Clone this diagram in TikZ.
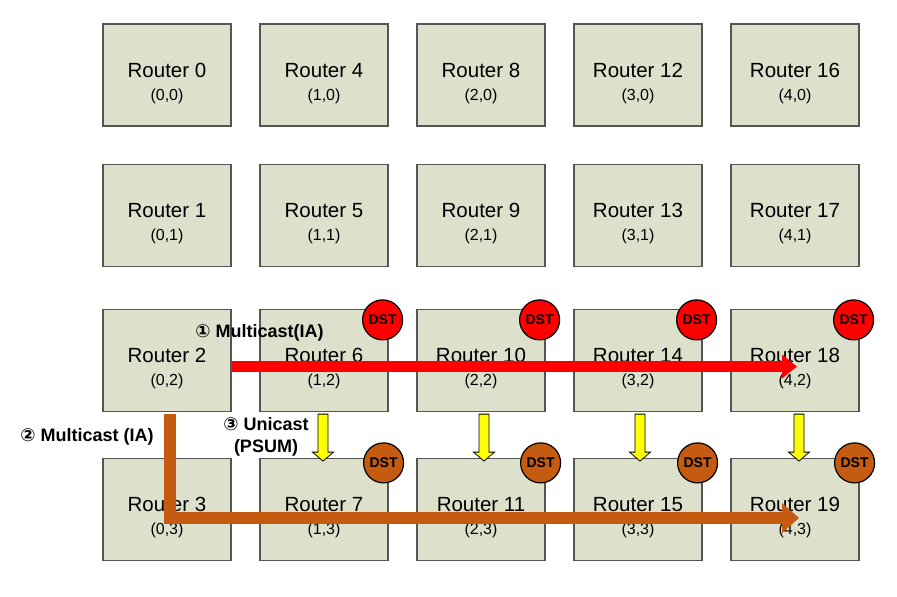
\documentclass[tikz,border=0pt]{standalone}
\usepackage{fontspec}
\setmainfont{Liberation Sans}
\newfontfamily\symfont{DejaVu Sans}
\usetikzlibrary{arrows.meta}
\definecolor{boxfill}{HTML}{DDE0CB}
\definecolor{boxline}{HTML}{555555}
\definecolor{mcred}{HTML}{FF0000}
\definecolor{mcbrown}{HTML}{C55A11}
\definecolor{ucyellow}{HTML}{FFFF00}
\tikzset{
  router/.style={draw=boxline, line width=1.2pt, fill=boxfill, minimum width=128pt, minimum height=102pt, inner sep=0pt},
  rname/.style={anchor=base, inner sep=0pt, font=\fontsize{20.5}{23}\selectfont},
  rpos/.style={anchor=base, inner sep=0pt, font=\fontsize{16}{19}\selectfont},
  dst/.style={circle, draw=black, line width=1.2pt, minimum size=40pt, inner sep=0pt, font=\fontsize{14}{16}\selectfont\bfseries},
  step label/.style={inner sep=0pt, font=\fontsize{18}{22}\selectfont\bfseries},
  pics/ucast/.style={code={
    \draw[fill=ucyellow, draw=black, line width=0.8pt] (-5,2) -- (5,2) -- (5,40) -- (10.5,40) -- (0,49) -- (-10.5,40) -- (-5,40) -- cycle;}}
}
% one router box: index, x, y, grid position
\newcommand{\Router}[4]{%
  \draw(#2,#3) node[router] (r#1) {};
  \draw([yshift=-2pt]r#1.center) node[rname] (n#1) {Router #1};
  \draw([yshift=-25pt]r#1.center) node[rpos] (p#1) {#4};
}
\begin{document}
\begin{tikzpicture}[x=1pt, y=-1pt]

    \useasboundingbox (0,0) rectangle (897,597);

    \Router{0}{167}{75}{(0,0)}
    \Router{1}{167}{215.5}{(0,1)}
    \Router{2}{167}{360.5}{(0,2)}
    \Router{3}{167}{509.5}{(0,3)}
    \Router{4}{324}{75}{(1,0)}
    \Router{5}{324}{215.5}{(1,1)}
    \Router{6}{324}{360.5}{(1,2)}
    \Router{7}{324}{509.5}{(1,3)}
    \Router{8}{481}{75}{(2,0)}
    \Router{9}{481}{215.5}{(2,1)}
    \Router{10}{481}{360.5}{(2,2)}
    \Router{11}{481}{509.5}{(2,3)}
    \Router{12}{638}{75}{(3,0)}
    \Router{13}{638}{215.5}{(3,1)}
    \Router{14}{638}{360.5}{(3,2)}
    \Router{15}{638}{509.5}{(3,3)}
    \Router{16}{795}{75}{(4,0)}
    \Router{17}{795}{215.5}{(4,1)}
    \Router{18}{795}{360.5}{(4,2)}
    \Router{19}{795}{509.5}{(4,3)}

    % multicast paths
    \draw[mcred, line width=11pt, -{Triangle[width=23pt, length=15pt]}]
    ([yshift=-6pt]r2.east) -- ([xshift=2pt, yshift=-6pt]r18.center);
    \draw[mcbrown, line width=12pt, line join=miter, -{Triangle[width=29pt, length=17pt]}]
    ([xshift=2.5pt, yshift=-2pt]r2.south) |- ([xshift=4pt, yshift=-8.5pt]r19.center);

    % unicast partial sums
    \pic at ([xshift=-1pt]r6.south) {ucast};
    \pic at ([xshift=3pt]r10.south) {ucast};
    \pic at ([xshift=2pt]r14.south) {ucast};
    \pic at ([xshift=4pt]r18.south) {ucast};

    \draw([xshift=-6pt, yshift=-11pt]r6.north east) node[dst, fill=mcred] (d6) {DST};
    \draw([xshift=-6pt, yshift=-11pt]r10.north east) node[dst, fill=mcred] (d10) {DST};
    \draw([xshift=-6pt, yshift=-11pt]r14.north east) node[dst, fill=mcred] (d14) {DST};
    \draw([xshift=-6pt, yshift=-11pt]r18.north east) node[dst, fill=mcred] (d18) {DST};
    \draw([xshift=-5pt, yshift=-5pt]r7.north east) node[dst, fill=mcbrown] (d7) {DST};
    \draw([xshift=-5pt, yshift=-5pt]r11.north east) node[dst, fill=mcbrown] (d11) {DST};
    \draw([xshift=-5pt, yshift=-5pt]r15.north east) node[dst, fill=mcbrown] (d15) {DST};
    \draw([xshift=-5pt, yshift=-5pt]r19.north east) node[dst, fill=mcbrown] (d19) {DST};

    \draw(259.5,333) node[step label] (s1) {{\symfont ①} Multicast(IA)};
    \draw(87,437) node[step label] (s2) {{\symfont ②} Multicast (IA)};
    \draw(266,437) node[step label, align=center] (s3) {{\symfont ③} Unicast\\(PSUM)};

    \end{tikzpicture}
\end{document}
